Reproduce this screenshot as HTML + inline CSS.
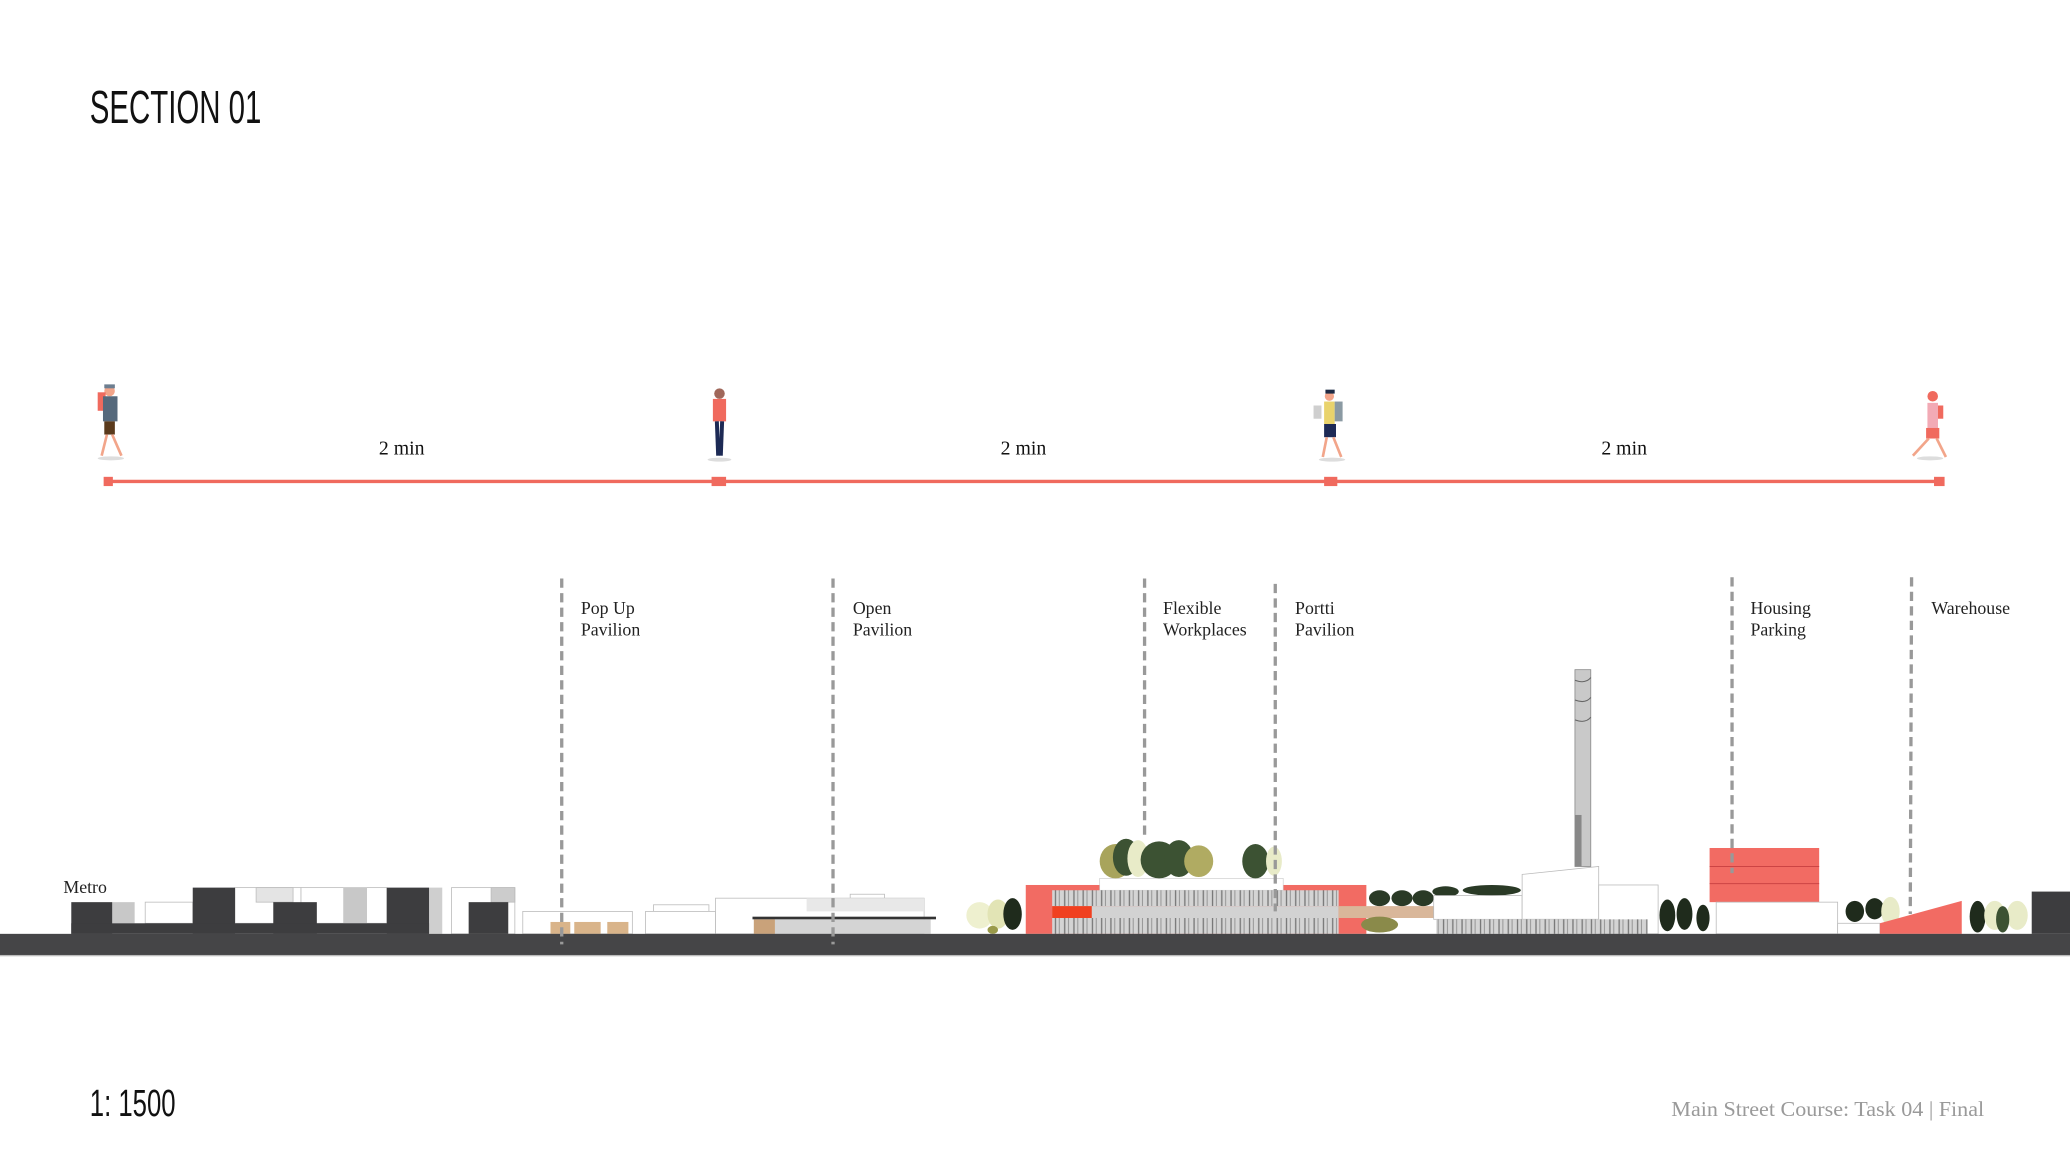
<!DOCTYPE html>
<html><head><meta charset="utf-8"><style>
html,body{margin:0;padding:0;background:#fff;width:2070px;height:1165px;overflow:hidden}
svg{display:block}
.lbl{font-family:"Liberation Serif",serif;font-size:13.5px;fill:#222}
.min{font-family:"Liberation Serif",serif;font-size:15px;fill:#111}
.dash{stroke:#999;stroke-width:2.5;stroke-dasharray:7,4;fill:none}
</style></head><body>
<svg width="2070" height="1165" viewBox="0 0 1568 882" preserveAspectRatio="none">
<defs>
<pattern id="slat" width="7" height="10" patternUnits="userSpaceOnUse">
<rect width="7" height="10" fill="#d4d4d4"/><rect x="1" width="1" height="10" fill="#777"/><rect x="4" width="0.8" height="10" fill="#999"/>
</pattern>
</defs>
<text x="68" y="93" font-family="'Liberation Sans',sans-serif" font-size="35" textLength="130" lengthAdjust="spacingAndGlyphs" fill="#111">SECTION 01</text>

<line x1="82" y1="364.5" x2="1469" y2="364.5" stroke="#f06a5e" stroke-width="2.5"/>
<rect x="78.5" y="361" width="7" height="7" fill="#f06a5e"/>
<rect x="539" y="361" width="11" height="7" fill="#f06a5e"/>
<rect x="1003" y="361" width="10" height="7" fill="#f06a5e"/>
<rect x="1465" y="361" width="8" height="7" fill="#f06a5e"/>
<text class="min" x="287" y="344">2 min</text>
<text class="min" x="758" y="344">2 min</text>
<text class="min" x="1213" y="344">2 min</text>

<g>
<ellipse cx="84" cy="347" rx="10" ry="1.5" fill="#ddd"/>
<circle cx="83" cy="296" r="4" fill="#f2a58a"/><rect x="79" y="291" width="8" height="3" fill="#6d7e90"/>
<rect x="74" y="297" width="6" height="14" fill="#f06a5e"/>
<rect x="78" y="300" width="11" height="19" fill="#56697c"/>
<rect x="79" y="319" width="8" height="10" fill="#5a3a1c"/>
<line x1="81" y1="329" x2="77" y2="345" stroke="#f2a58a" stroke-width="2"/>
<line x1="85" y1="329" x2="92" y2="345" stroke="#f2a58a" stroke-width="2"/>
</g>
<g>
<ellipse cx="545" cy="348" rx="9" ry="1.5" fill="#ddd"/>
<circle cx="545" cy="298" r="4" fill="#a0675a"/>
<rect x="540" y="302" width="10" height="17" fill="#f06a5e"/>
<line x1="543" y1="319" x2="544" y2="345" stroke="#1d2a55" stroke-width="3"/>
<line x1="547" y1="319" x2="546" y2="345" stroke="#1d2a55" stroke-width="3"/>
</g>
<g>
<ellipse cx="1009" cy="348" rx="10" ry="1.5" fill="#ddd"/>
<circle cx="1007" cy="300" r="3.5" fill="#f2a58a"/><rect x="1004" y="295" width="7" height="3" fill="#1e2a44"/>
<rect x="995" y="307" width="6" height="10" fill="#cfcfcf"/>
<rect x="1003" y="304" width="8" height="17" fill="#e9d36c"/>
<rect x="1011" y="304" width="6" height="15" fill="#8b9aa3"/>
<rect x="1003" y="321" width="9" height="10" fill="#1d2a55"/>
<line x1="1005" y1="331" x2="1002" y2="346" stroke="#f2a58a" stroke-width="2"/>
<line x1="1010" y1="331" x2="1016" y2="346" stroke="#f2a58a" stroke-width="2"/>
</g>
<g>
<ellipse cx="1462" cy="347" rx="10" ry="1.5" fill="#ddd"/>
<circle cx="1464" cy="300" r="4" fill="#f06a5e"/>
<rect x="1460" y="305" width="8" height="22" fill="#f2aab5"/>
<rect x="1468" y="307" width="4" height="10" fill="#f06a5e"/>
<rect x="1459" y="324" width="10" height="8" fill="#f06a5e"/>
<line x1="1461" y1="332" x2="1449" y2="345" stroke="#f2a58a" stroke-width="2"/>
<line x1="1467" y1="332" x2="1474" y2="346" stroke="#f2a58a" stroke-width="2"/>
</g>

<text class="lbl" x="440" y="465">Pop Up</text><text class="lbl" x="440" y="481">Pavilion</text>
<text class="lbl" x="646" y="465">Open</text><text class="lbl" x="646" y="481">Pavilion</text>
<text class="lbl" x="881" y="465">Flexible</text><text class="lbl" x="881" y="481">Workplaces</text>
<text class="lbl" x="981" y="465">Portti</text><text class="lbl" x="981" y="481">Pavilion</text>
<text class="lbl" x="1326" y="465">Housing</text><text class="lbl" x="1326" y="481">Parking</text>
<text class="lbl" x="1463" y="465">Warehouse</text>
<text class="lbl" x="48" y="676">Metro</text>

<g stroke="#bbb" stroke-width="0.6">
<rect x="110" y="683" width="36" height="16" fill="#fff"/>
<rect x="178" y="672" width="50" height="27" fill="#fff"/>
<rect x="194" y="672" width="28" height="11" fill="#e4e4e4"/>
<rect x="228" y="672" width="65" height="27" fill="#fff"/>
<rect x="342" y="672" width="48" height="35" fill="#fff"/>
<rect x="372" y="672" width="18" height="11" fill="#ccc"/>
</g>
<rect x="85" y="683" width="17" height="16" fill="#c8c8c8"/>
<rect x="260" y="672" width="18" height="27" fill="#c8c8c8"/>
<rect x="325" y="672" width="10" height="35" fill="#cfcfcf"/>
<g fill="#3d3d3f">
<rect x="54" y="683" width="31" height="24"/>
<rect x="146" y="672" width="32" height="35"/>
<rect x="207" y="683" width="33" height="24"/>
<rect x="293" y="672" width="32" height="35"/>
<rect x="355" y="683" width="30" height="24"/>
<rect x="54" y="699" width="271" height="8"/>
</g>

<rect x="396" y="690" width="83" height="17" fill="#fff" stroke="#bbb" stroke-width="0.6"/>
<rect x="417" y="698" width="15" height="9" fill="#d9b48a"/>
<rect x="435" y="698" width="20" height="9" fill="#d9b48a"/>
<rect x="460" y="698" width="16" height="9" fill="#d9b48a"/>

<g stroke="#bbb" stroke-width="0.6" fill="#fff">
<rect x="495" y="685" width="42" height="22"/>
<rect x="489" y="690" width="53" height="17"/>
<rect x="542" y="680" width="158" height="27"/>
<rect x="644" y="677" width="26" height="3"/>
</g>
<rect x="611" y="680" width="89" height="10" fill="#e8e8e8"/>
<rect x="587" y="696" width="118" height="11" fill="#d4d4d4"/>
<rect x="571" y="696" width="16" height="11" fill="#c9a27a"/>
<rect x="570" y="694" width="139" height="2" fill="#333"/>

<g>
<ellipse cx="742" cy="693" rx="10" ry="10" fill="#eef0cf"/>
<ellipse cx="756" cy="692" rx="8" ry="11" fill="#e2e4b5"/>
<ellipse cx="767" cy="692" rx="7" ry="12" fill="#1f2b1c"/>
<ellipse cx="752" cy="704" rx="4" ry="3" fill="#9a9a4a"/>
</g>

<rect x="777" y="670" width="258" height="37" fill="#f26b63"/>
<rect x="833" y="665" width="139" height="9" fill="#fff" stroke="#ccc" stroke-width="0.5"/>
<g>
<ellipse cx="845" cy="652" rx="12" ry="13" fill="#a8a45c"/>
<ellipse cx="853" cy="649" rx="10" ry="14" fill="#3c5233"/>
<ellipse cx="862" cy="650" rx="8" ry="14" fill="#e8ebc8"/>
<ellipse cx="878" cy="651" rx="14" ry="14" fill="#3c5233"/>
<ellipse cx="893" cy="650" rx="11" ry="14" fill="#3c5233"/>
<ellipse cx="908" cy="652" rx="11" ry="12" fill="#b0ab62"/>
<ellipse cx="951" cy="652" rx="10" ry="13" fill="#3c5233"/>
<ellipse cx="965" cy="652" rx="6" ry="11" fill="#e8ebc8"/>
</g>
<rect x="797" y="674" width="217" height="12" fill="url(#slat)"/>
<rect x="797" y="686" width="217" height="9" fill="#d2d2d2"/>
<rect x="797" y="686" width="30" height="9" fill="#f04020"/>
<rect x="797" y="695" width="217" height="12" fill="url(#slat)"/>
<rect x="1014" y="686" width="80" height="9" fill="#d9b79a"/>
<ellipse cx="1045" cy="700" rx="14" ry="6" fill="#8a8a4a"/>
<g fill="#2a3a26">
<ellipse cx="1045" cy="680" rx="8" ry="6"/><ellipse cx="1062" cy="680" rx="8" ry="6"/><ellipse cx="1078" cy="680" rx="8" ry="6"/>
<ellipse cx="1095" cy="675" rx="10" ry="4"/><ellipse cx="1130" cy="674" rx="22" ry="4"/>
</g>
<g fill="#fff" stroke="#bbb" stroke-width="0.6">
<rect x="1086" y="678" width="67" height="18"/>
<polygon points="1153,662 1211,656 1211,696 1153,696"/>
<rect x="1211" y="670" width="45" height="37"/>
</g>
<rect x="1193" y="507" width="12" height="149" fill="#c9c9c9" stroke="#888" stroke-width="0.6"/>
<rect x="1193" y="617" width="5" height="39" fill="#888"/>
<path d="M1193,515 q8,3 12,-2 M1193,530 q8,3 12,-2 M1193,545 q8,3 12,-2" stroke="#666" fill="none" stroke-width="0.8"/>
<rect x="1088" y="696" width="160" height="11" fill="url(#slat)"/>

<g fill="#1f2b1c">
<ellipse cx="1263" cy="693" rx="6" ry="12"/><ellipse cx="1276" cy="692" rx="6" ry="12"/><ellipse cx="1290" cy="695" rx="5" ry="10"/>
<ellipse cx="1405" cy="690" rx="7" ry="8"/><ellipse cx="1420" cy="688" rx="7" ry="8"/>
<ellipse cx="1498" cy="694" rx="6" ry="12"/>
</g>
<ellipse cx="1432" cy="690" rx="7" ry="11" fill="#e8ebc8"/>
<ellipse cx="1511" cy="693" rx="8" ry="11" fill="#e8ebc8"/>
<ellipse cx="1528" cy="693" rx="8" ry="11" fill="#e8ebc8"/>
<ellipse cx="1517" cy="696" rx="5" ry="10" fill="#3c5233"/>

<rect x="1295" y="642" width="83" height="41" fill="#f26b63"/>
<line x1="1295" y1="656" x2="1378" y2="656" stroke="#c44" stroke-width="0.8"/>
<line x1="1295" y1="669" x2="1378" y2="669" stroke="#c44" stroke-width="0.8"/>
<rect x="1300" y="683" width="92" height="24" fill="#fff" stroke="#bbb" stroke-width="0.6"/>
<rect x="1392" y="699" width="32" height="8" fill="#fff" stroke="#bbb" stroke-width="0.6"/>
<polygon points="1424,699 1486,682 1486,707 1424,707" fill="#f26b63"/>
<rect x="1539" y="675" width="29" height="32" fill="#3d3d3f"/>

<rect x="0" y="707" width="1568" height="16" fill="#454547"/>
<rect x="0" y="723" width="1568" height="1" fill="#bbb"/>

<line class="dash" x1="425.5" y1="438" x2="425.5" y2="715"/>
<line class="dash" x1="631" y1="438" x2="631" y2="715"/>
<line class="dash" x1="867" y1="438" x2="867" y2="635"/>
<line class="dash" x1="966" y1="442" x2="966" y2="690"/>
<line class="dash" x1="1312" y1="437" x2="1312" y2="661"/>
<line class="dash" x1="1448" y1="437" x2="1447" y2="692"/>

<text x="68" y="845" font-family="'Liberation Sans',sans-serif" font-size="29" textLength="65" lengthAdjust="spacingAndGlyphs" fill="#111">1: 1500</text>
<text x="1266" y="845" font-family="'Liberation Serif',serif" font-size="16" textLength="237" lengthAdjust="spacingAndGlyphs" fill="#9a9a9a">Main Street Course: Task 04 | Final</text>
</svg>
</body></html>
